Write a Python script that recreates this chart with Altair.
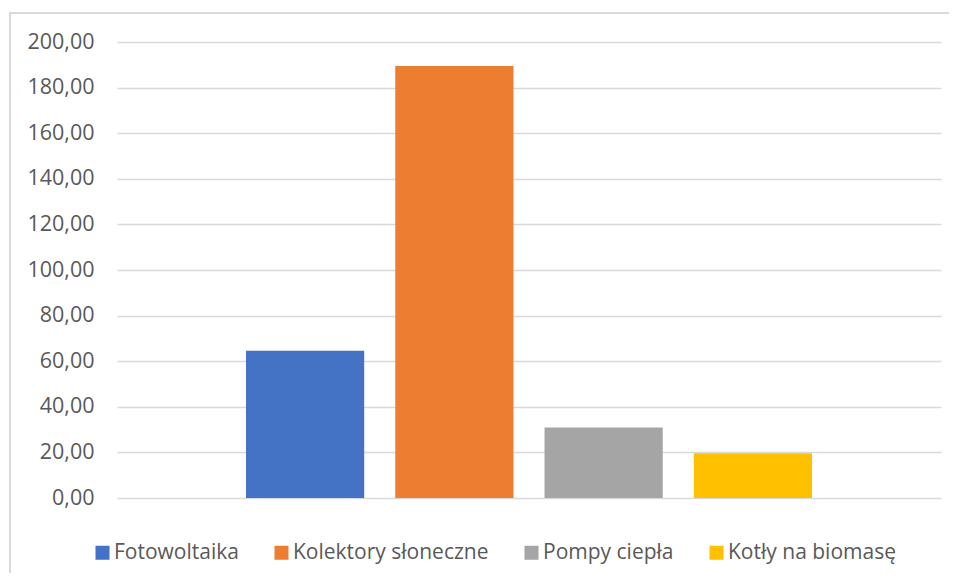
import altair as alt
import pandas as pd

series = ["Fotowoltaika", "Kolektory słoneczne", "Pompy ciepła", "Kotły na biomasę"]
values = [64.6, 189.5, 30.9, 19.6]
colors = ["#4472C4", "#ED7D31", "#A5A5A5", "#FFC000"]
y_ticks = [0, 20, 40, 60, 80, 100, 120, 140, 160, 180, 200]

df = pd.DataFrame({"seria": series, "wartosc": values})

FONT = "Open Sans"
TXT = "#595959"
FS = 21.5
LFS = 21

bars = alt.Chart(df).mark_bar().encode(
    x=alt.X("seria:N", sort=series, axis=None,
            scale=alt.Scale(paddingInner=0.208, paddingOuter=0.864)),
    y=alt.Y("wartosc:Q", title=None,
            scale=alt.Scale(domain=[0, 200], nice=False),
            axis=alt.Axis(values=y_ticks, domain=False, ticks=False,
                          labelPadding=23, labelFontSize=FS, labelFont=FONT,
                          labelColor=TXT, gridColor="#d9d9d9", gridWidth=1.5,
                          labelExpr="replace(format(datum.value, '.2f'), '.', ',')")),
    color=alt.Color("seria:N", sort=series,
                    scale=alt.Scale(domain=series, range=colors),
                    legend=alt.Legend(title=None, orient="none", direction="horizontal",
                                      columns=4, legendX=-25, legendY=500,
                                      symbolType="square", symbolSize=196,
                                      symbolStrokeWidth=0, labelOffset=1,
                                      columnPadding=32, labelFontSize=LFS,
                                      labelLimit=400,
                                      labelFont=FONT, labelColor=TXT)),
)

frame = alt.Chart(df).mark_rect(filled=False, stroke="#d9d9d9", strokeWidth=1.5).encode(
    x=alt.value(-107), x2=alt.value(900), y=alt.value(-29), y2=alt.value(600))

chart = alt.layer(frame, bars).properties(
    width=824, height=456,
    autosize=alt.AutoSizeParams(type="none"),
    padding={"left": 109, "top": 34, "right": 8, "bottom": 75},
).configure_view(stroke=None)

chart.save("out.html", embed_options={"renderer": "svg", "actions": False})
